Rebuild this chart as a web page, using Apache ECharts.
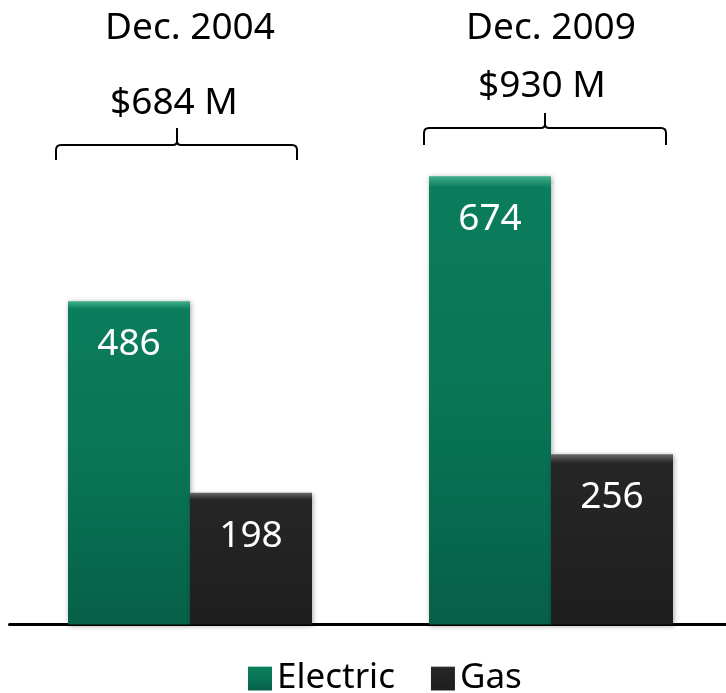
<!DOCTYPE html>
<html>
<head>
<meta charset="utf-8">
<script src="https://cdn.jsdelivr.net/npm/echarts@6/dist/echarts.min.js"></script>
<style>
html,body{margin:0;padding:0;background:#fff;overflow:hidden;}
#c{width:732px;height:693px;}
</style>
</head>
<body>
<div id="c"></div>
<script>
const categories = ['Dec. 2004', 'Dec. 2009'];
const electric = [486, 674];
const gas = [198, 256];
const seriesNames = ['Electric', 'Gas'];

const totals = categories.map((c, i) => '$' + (electric[i] + gas[i]) + ' M');

const chart = echarts.init(document.getElementById('c'));

const greenGrad = new echarts.graphic.LinearGradient(0, 0, 0, 1, [
  {offset: 0, color: '#3fae8c'},
  {offset: 0.025, color: '#0b7d5c'},
  {offset: 0.5, color: '#097555'},
  {offset: 1, color: '#066048'}
]);
const darkGrad = new echarts.graphic.LinearGradient(0, 0, 0, 1, [
  {offset: 0, color: '#6a6a6a'},
  {offset: 0.05, color: '#262626'},
  {offset: 1, color: '#1e1e1e'}
]);

const FONT = 'Noto Sans';

chart.setOption({
  animation: false,
  backgroundColor: '#ffffff',
  grid: {left: 9.5, right: 0.5, top: 159, bottom: 68.5, containLabel: false},
  legend: {
    left: 243,
    top: 656,
    itemWidth: 24,
    itemHeight: 24,
    itemGap: 36,
    icon: 'rect',
    textStyle: {fontFamily: FONT, fontSize: 35, color: '#000'},
    data: seriesNames
  },
  xAxis: {
    type: 'category',
    data: categories,
    axisLine: {lineStyle: {color: '#000', width: 3}},
    axisTick: {show: false},
    axisLabel: {show: false},
    splitLine: {show: false}
  },
  yAxis: {
    type: 'value',
    min: 0,
    max: 700,
    show: false,
    splitLine: {show: false}
  },
  series: [
    {
      name: seriesNames[0],
      type: 'bar',
      data: electric,
      barWidth: 122,
      barGap: '0%',
      itemStyle: {color: greenGrad, shadowBlur: 5, shadowColor: 'rgba(0,0,0,0.35)', shadowOffsetX: 1, shadowOffsetY: 1},
      label: {show: true, position: 'insideTop', distance: 25, color: '#fff', fontFamily: FONT, fontSize: 37}
    },
    {
      name: seriesNames[1],
      type: 'bar',
      data: gas,
      barWidth: 122,
      itemStyle: {color: darkGrad, shadowBlur: 5, shadowColor: 'rgba(0,0,0,0.35)', shadowOffsetX: 1, shadowOffsetY: 1},
      label: {show: true, position: 'insideTop', distance: 25, color: '#fff', fontFamily: FONT, fontSize: 37}
    }
  ]
});

// Annotations (titles, totals, braces)
const titleY = [28, 28];
const totalPos = [[174, 103], [542, 86]];
const braces = [
  {x1: 56, x2: 297, xm: 177, y: 145, yEnd: 160, yNub: 128},
  {x1: 424, x2: 666, xm: 545, y: 128, yEnd: 145, yNub: 113}
];
const graphics = [];
const ls = {stroke: '#000', lineWidth: 2, fill: null};
categories.forEach((c, i) => {
  const cx = chart.convertToPixel({xAxisIndex: 0}, c);
  graphics.push({
    type: 'text', x: cx, y: titleY[i],
    style: {text: c, fontFamily: FONT, fontSize: 37, fill: '#000', align: 'center', verticalAlign: 'middle'}
  });
  graphics.push({
    type: 'text', x: totalPos[i][0], y: totalPos[i][1],
    style: {text: totals[i], fontFamily: FONT, fontSize: 37, fill: '#000', align: 'center', verticalAlign: 'middle'}
  });
  const b = braces[i];
  const r = 5;
  graphics.push({type: 'line', shape: {x1: b.x1, y1: b.yEnd, x2: b.x1, y2: b.y + r}, style: ls});
  graphics.push({type: 'bezierCurve', shape: {x1: b.x1, y1: b.y + r, cpx1: b.x1, cpy1: b.y, x2: b.x1 + r, y2: b.y}, style: ls});
  graphics.push({type: 'line', shape: {x1: b.x1 + r, y1: b.y, x2: b.xm - 4, y2: b.y}, style: ls});
  graphics.push({type: 'bezierCurve', shape: {x1: b.xm - 4, y1: b.y, cpx1: b.xm, cpy1: b.y, x2: b.xm, y2: b.y - 4}, style: ls});
  graphics.push({type: 'line', shape: {x1: b.xm, y1: b.y - 4, x2: b.xm, y2: b.yNub}, style: ls});
  graphics.push({type: 'bezierCurve', shape: {x1: b.xm + 4, y1: b.y, cpx1: b.xm, cpy1: b.y, x2: b.xm, y2: b.y - 4}, style: ls});
  graphics.push({type: 'line', shape: {x1: b.xm + 4, y1: b.y, x2: b.x2 - r, y2: b.y}, style: ls});
  graphics.push({type: 'bezierCurve', shape: {x1: b.x2 - r, y1: b.y, cpx1: b.x2, cpy1: b.y, x2: b.x2, y2: b.y + r}, style: ls});
  graphics.push({type: 'line', shape: {x1: b.x2, y1: b.y + r, x2: b.x2, y2: b.yEnd}, style: ls});
});
chart.setOption({graphic: graphics});
</script>
</body>
</html>
